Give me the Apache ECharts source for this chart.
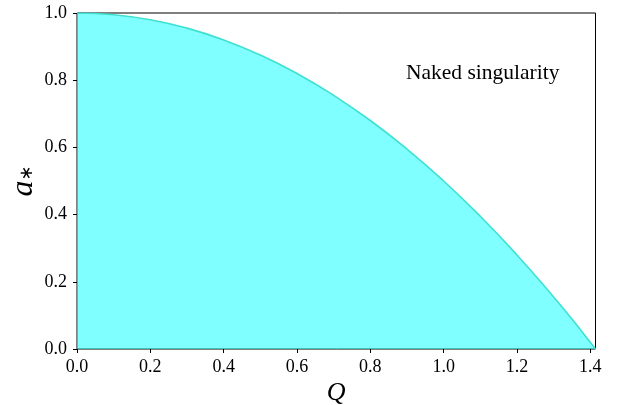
<!DOCTYPE html>
<html>
<head>
<meta charset="utf-8">
<script src="https://cdn.jsdelivr.net/npm/echarts@6/dist/echarts.min.js"></script>
<style>
  html, body { margin: 0; padding: 0; background: #fff; }
  #chart { width: 621px; height: 405px; }
</style>
</head>
<body>
<div id="chart"></div>
<script>
// Spin parameter bound a* against charge Q; above the curve lies the naked singularity region
const chargeQ = [0.0, 0.1, 0.2, 0.3, 0.4, 0.5, 0.6, 0.7, 0.8, 0.9, 1.0, 1.1, 1.2, 1.3, 1.35, 1.4, 1.4142];
const spinA   = [1.0, 0.995, 0.98, 0.955, 0.92, 0.875, 0.82, 0.755, 0.68, 0.595, 0.5, 0.395, 0.28, 0.155, 0.089, 0.02, 0.0];
const xTicks = [0.0, 0.2, 0.4, 0.6, 0.8, 1.0, 1.2, 1.4];
const yTicks = [0.0, 0.2, 0.4, 0.6, 0.8, 1.0];
const regionLabel = 'Naked singularity';

const font = '"Liberation Serif", "DejaVu Serif", serif';
const chart = echarts.init(document.getElementById('chart'), null, { renderer: 'canvas' });

chart.setOption({
  animation: false,
  grid: {
    left: 77, right: 25.5, top: 13, bottom: 56,
    containLabel: false, outerBoundsMode: 'none',
    show: true, borderColor: '#000', borderWidth: 1, backgroundColor: 'transparent'
  },
  xAxis: {
    type: 'value', min: 0, max: 1.4142, interval: 0.2,
    axisLine: { show: false },
    axisTick: { show: true, inside: false, length: 4, lineStyle: { color: '#000', width: 1 } },
    splitLine: { show: false },
    axisLabel: {
      fontFamily: font, fontSize: 18, color: '#000', margin: 9,
      showMaxLabel: false,
      formatter: v => (xTicks.some(t => Math.abs(t - v) < 1e-6) ? v.toFixed(1) : '')
    },
    name: 'Q', nameLocation: 'middle', nameGap: 31, nameMoveOverlap: false,
    nameTextStyle: { fontFamily: font, fontSize: 26, fontStyle: 'italic', color: '#000' }
  },
  yAxis: {
    type: 'value', min: 0, max: 1, interval: 0.2,
    axisLine: { show: false },
    axisTick: { show: true, inside: false, length: 4, lineStyle: { color: '#000', width: 1 } },
    splitLine: { show: false },
    axisLabel: {
      fontFamily: font, fontSize: 18, color: '#000', margin: 10,
      formatter: v => v.toFixed(1)
    },
    name: '{a|a}{s|∗}', nameLocation: 'middle', nameGap: 37, nameMoveOverlap: false,
    nameTextStyle: {
      rich: {
        a: { fontFamily: font, fontSize: 32, fontStyle: 'italic', color: '#000' },
        s: { fontFamily: '"DejaVu Sans", sans-serif', fontSize: 18, color: '#000', padding: [6, 0, 0, 0] }
      }
    }
  },
  series: [
    {
      type: 'line',
      data: chargeQ.map((q, i) => [q, spinA[i]]),
      smooth: true,
      showSymbol: false,
      lineStyle: { color: '#40e0d0', width: 1.6 },
      areaStyle: { color: '#00ffff', opacity: 0.5, origin: 'start' },
      z: 3
    }
  ],
  graphic: [
    {
      type: 'text', left: 406, top: 62,
      style: { text: regionLabel, fontFamily: font, fontSize: 21.5, fill: '#000' }
    }
  ]
});
</script>
</body>
</html>
